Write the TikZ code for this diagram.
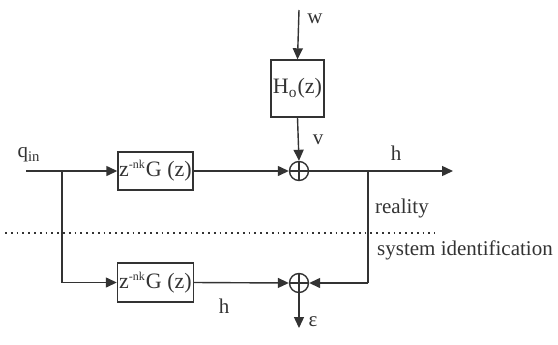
\documentclass[tikz,border=0pt]{standalone}
\usepackage{fontspec}
\setmainfont{Liberation Serif}
\usetikzlibrary{arrows.meta}
\begin{document}
\begin{tikzpicture}[x=0.5pt,y=-0.5pt,
  font=\fontsize{10.5}{12}\selectfont,
  line width=0.7pt,
  color=black!80,
  >={Triangle[length=5.5pt,width=5pt]},
  blk/.style={draw, rectangle, inner sep=0pt, font=\fontsize{11}{12}\selectfont},
  sumnode/.style={draw, circle, minimum size=9.5pt, inner sep=0pt,
    path picture={\draw (path picture bounding box.north) -- (path picture bounding box.south)
      (path picture bounding box.west) -- (path picture bounding box.east);}}]
\useasboundingbox (0,0) rectangle (558,344);
% blocks
\node[blk, minimum width=37.5pt, minimum height=19pt] (g1) at (155.5,171) {z\textsuperscript{\fontsize{6}{6}\selectfont -nk}G (z)};
\node[blk, minimum width=38pt, minimum height=19.5pt] (g2) at (155.5,282.5) {z\textsuperscript{\fontsize{6}{6}\selectfont -nk}G (z)};
\node[blk, minimum width=26.5pt, minimum height=28.5pt] (H) at (297.5,88.5) {H\textsubscript{o}(z)};
\node[sumnode] (s1) at (299,171) {};
\node[sumnode] (s2) at (299,283) {};
% coordinates
\coordinate (qs) at (26,171);
\coordinate (j) at (62,171);
\coordinate (b) at (368,171);
\coordinate (b2) at (368,283);
\coordinate (out) at (453,171);
\coordinate (wtop) at (299,10);
\coordinate (eps) at (299,328);
\coordinate (dl) at (5,233);
\coordinate (dr) at (435,233);
% connectors
\draw[->] (qs) -- (g1.west);
\draw[->] (j) |- (g2.west);
\draw[->] (g1.east) -- (s1.west);
\draw[->] (s1.east) -- (out);
\draw[->] (wtop) -- (H.north);
\draw[->] (H.south) -- (s1.north);
\draw (b) -- (b2);
\draw[->] (b2) -- (s2.east);
\draw[->] (g2.east) -- (s2.west);
\draw[->] (s2.south) -- (eps);
\draw[dotted, line width=0.9pt] (dl) -- (dr);
% labels
\node (lq) at (29,155) {q\textsubscript{in}};
\node (lh) at (396,153) {h};
\node (lv) at (318,140) {v};
\node (lw) at (315,19) {w};
\node (lr) at (402,208) {reality};
\node (ls) at (465,250) {system identification};
\node (lh2) at (224,306) {h};
\node (le) at (313,322) {ε};
\end{tikzpicture}
\end{document}
